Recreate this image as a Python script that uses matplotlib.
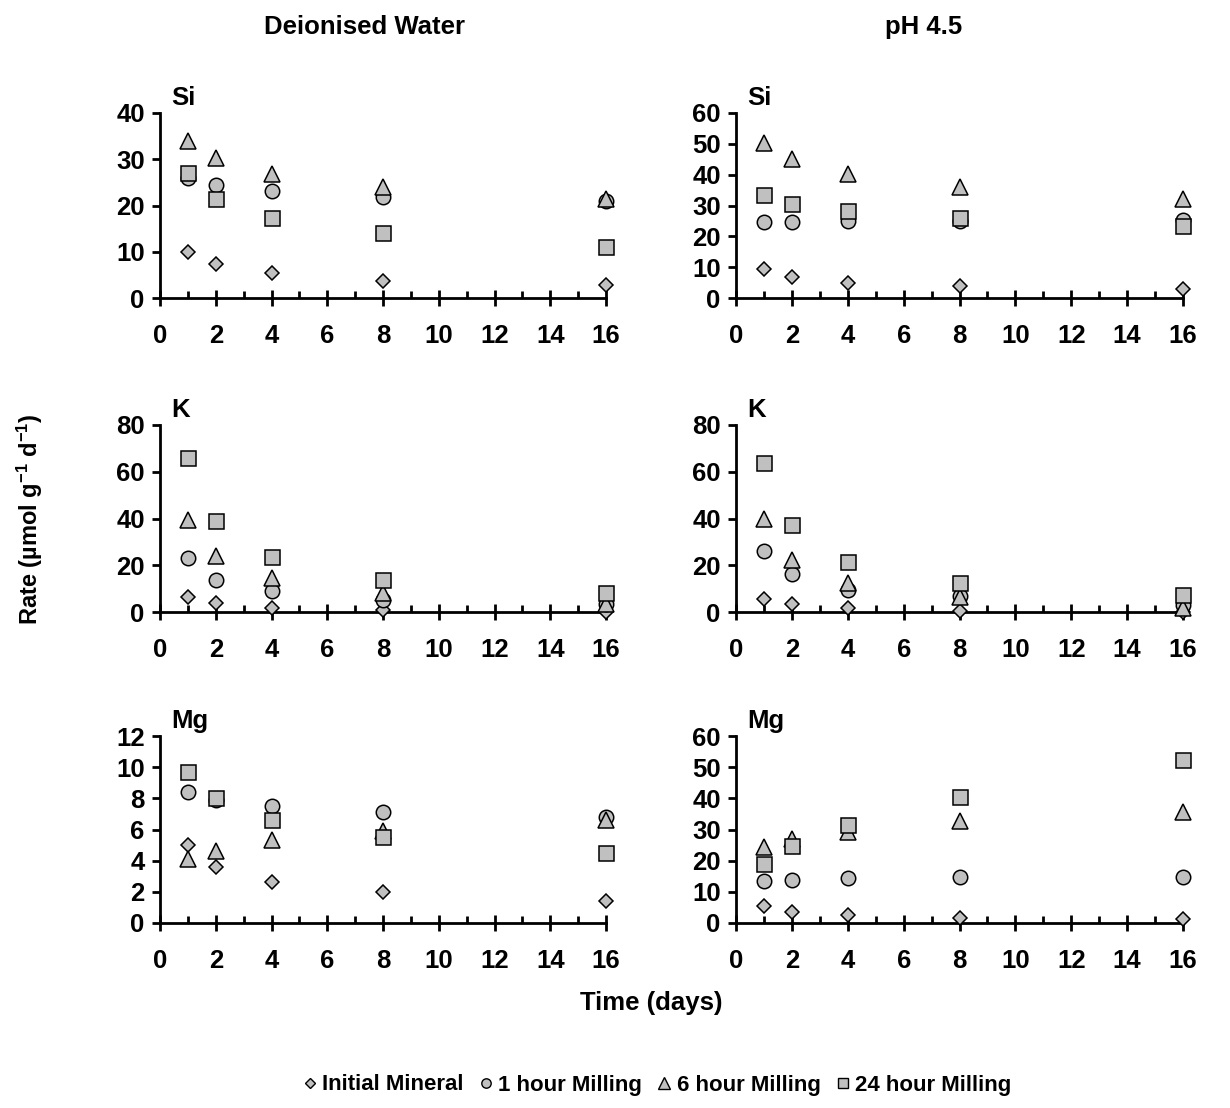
import matplotlib
matplotlib.use("Agg")
import matplotlib.pyplot as plt
from matplotlib.ticker import MultipleLocator
from matplotlib.lines import Line2D

plt.rcParams['font.family'] = ['Liberation Sans', 'DejaVu Sans']
plt.rcParams['font.weight'] = 'bold'
plt.rcParams['mathtext.fontset'] = 'custom'
plt.rcParams['mathtext.bf'] = 'Liberation Sans:bold'
plt.rcParams['mathtext.rm'] = 'Liberation Sans:bold'
plt.rcParams['mathtext.default'] = 'bf'

days = [1, 2, 4, 8, 16]
series_names = ["Initial Mineral", "1 hour Milling", "6 hour Milling", "24 hour Milling"]

# Deionised water
si_dw_initial = [10.0, 7.4, 5.4, 3.7, 2.8]
si_dw_1h = [26.0, 24.5, 23.2, 21.9, 20.9]
si_dw_6h = [34.0, 30.2, 26.8, 24.0, 21.3]
si_dw_24h = [27.0, 21.5, 17.3, 14.0, 11.0]

k_dw_initial = [6.4, 3.9, 1.9, 0.7, 0.2]
k_dw_1h = [22.9, 13.9, 8.9, 5.3, 3.3]
k_dw_6h = [39.5, 24.0, 14.7, 8.1, 3.6]
k_dw_24h = [66.0, 38.9, 23.6, 13.9, 8.1]

mg_dw_initial = [5.0, 3.6, 2.6, 2.0, 1.4]
mg_dw_1h = [8.4, 7.9, 7.5, 7.1, 6.8]
mg_dw_6h = [4.1, 4.6, 5.3, 5.9, 6.6]
mg_dw_24h = [9.7, 8.0, 6.6, 5.5, 4.5]

# pH 4.5
si_ph_initial = [9.4, 6.9, 5.0, 4.0, 2.9]
si_ph_1h = [24.7, 24.7, 25.0, 25.0, 25.4]
si_ph_6h = [50.2, 45.1, 40.2, 36.0, 32.2]
si_ph_24h = [33.5, 30.6, 28.3, 25.8, 23.2]

k_ph_initial = [5.7, 3.3, 1.9, 0.4, 0.1]
k_ph_1h = [26.1, 16.4, 9.6, 6.7, 2.9]
k_ph_6h = [40.0, 22.4, 12.4, 6.4, 1.9]
k_ph_24h = [63.6, 37.1, 21.4, 12.6, 7.4]

mg_ph_initial = [5.6, 3.6, 2.6, 1.7, 1.2]
mg_ph_1h = [13.4, 13.9, 14.4, 14.9, 14.9]
mg_ph_6h = [24.4, 27.0, 29.2, 32.6, 35.6]
mg_ph_24h = [18.9, 24.6, 31.3, 40.4, 52.3]

panels = [
    # (row, col, label, ymax, ystep, data)
    (0, 0, "Si", 40, 10, [si_dw_initial, si_dw_1h, si_dw_6h, si_dw_24h]),
    (0, 1, "Si", 60, 10, [si_ph_initial, si_ph_1h, si_ph_6h, si_ph_24h]),
    (1, 0, "K", 80, 20, [k_dw_initial, k_dw_1h, k_dw_6h, k_dw_24h]),
    (1, 1, "K", 80, 20, [k_ph_initial, k_ph_1h, k_ph_6h, k_ph_24h]),
    (2, 0, "Mg", 12, 2, [mg_dw_initial, mg_dw_1h, mg_dw_6h, mg_dw_24h]),
    (2, 1, "Mg", 60, 10, [mg_ph_initial, mg_ph_1h, mg_ph_6h, mg_ph_24h]),
]

markers = [("D", 7.6), ("o", 10.4), ("^", 12.2), ("s", 10.8)]
fill = "#c0c0c0"

W, H = 1230, 1108
fig = plt.figure(figsize=(W / 100, H / 100), dpi=100)

col_x = [(160, 606), (736, 1183)]
row_y = [(113, 298), (425, 612), (736, 923)]

FS = 18.5

for row, col, label, ymax, ystep, data in panels:
    x0, x1 = col_x[col]
    yt, yb = row_y[row]
    ax = fig.add_axes([x0 / W, 1 - yb / H, (x1 - x0) / W, (yb - yt) / H])
    for (m, ms), vals in zip(markers, data):
        ax.plot(days, vals, linestyle="none", marker=m, markersize=ms,
                markerfacecolor=fill, markeredgecolor="black",
                markeredgewidth=1.1, clip_on=False, zorder=3)
    ax.set_xlim(0, 16)
    ax.set_ylim(0, ymax)
    ax.xaxis.set_major_locator(MultipleLocator(2))
    ax.xaxis.set_minor_locator(MultipleLocator(1))
    ax.yaxis.set_major_locator(MultipleLocator(ystep))
    for s in ("top", "right"):
        ax.spines[s].set_visible(False)
    for s in ("left", "bottom"):
        ax.spines[s].set_linewidth(2)
    ax.tick_params(axis="x", which="major", direction="inout", length=12,
                   width=2, labelsize=FS, pad=13)
    ax.tick_params(axis="x", which="minor", direction="in", length=5, width=2)
    ax.tick_params(axis="y", which="major", direction="out", length=6,
                   width=2, labelsize=FS, pad=5)
    for t in ax.get_xticklabels() + ax.get_yticklabels():
        t.set_fontweight("bold")
    ax.text(0.025, 1.015, label, transform=ax.transAxes, fontsize=FS,
            fontweight="bold", ha="left", va="bottom")

fig.text(364 / W, 1 - 27 / H, "Deionised Water", fontsize=FS, fontweight="bold",
         ha="center", va="center")
fig.text(924 / W, 1 - 27 / H, "pH 4.5", fontsize=FS, fontweight="bold",
         ha="center", va="center")
fig.text(30 / W, 1 - 519 / H, r"Rate (µmol g$^{-1}$ d$^{-1}$)",
         fontsize=17, fontweight="bold", rotation=90, ha="center", va="center")
fig.text(651 / W, 1 - 1003 / H, "Time (days)", fontsize=FS, fontweight="bold",
         ha="center", va="center")

handles = [Line2D([], [], linestyle="none", marker=m, markersize=ms * 0.65,
                  markerfacecolor=fill, markeredgecolor="black",
                  markeredgewidth=1.0) for m, ms in markers]
fig.legend(handles, series_names, loc="center", bbox_to_anchor=(655 / W, 1 - 1085 / H),
           ncol=4, frameon=False, handletextpad=0.05,
           columnspacing=0.5, handlelength=1.0,
           prop={"weight": "bold", "size": 16})

fig.savefig("out.png", dpi=100)
